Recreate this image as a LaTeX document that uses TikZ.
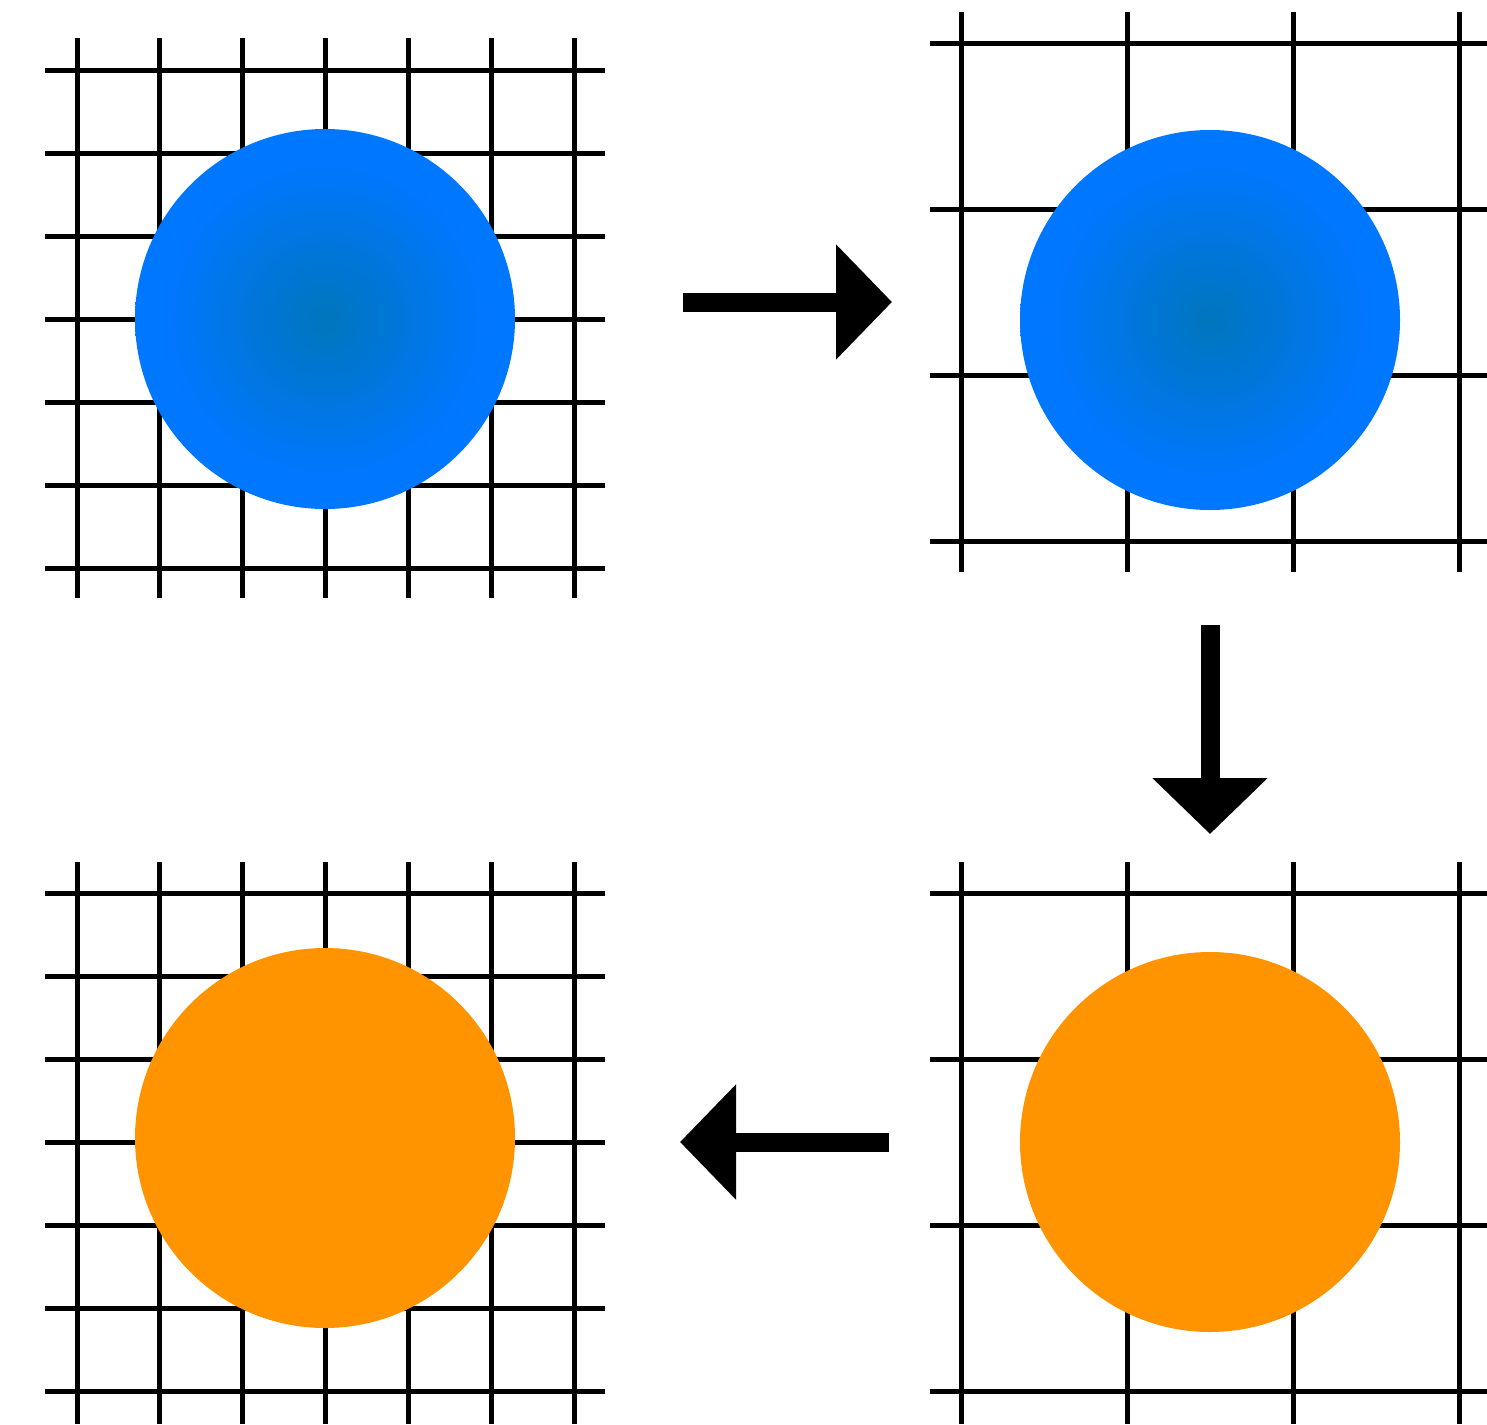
\documentclass[tikz,border=0pt]{standalone}
\usetikzlibrary{arrows.meta}
\definecolor{ballin}{RGB}{0,118,189}
\definecolor{ballout}{RGB}{0,119,255}
\definecolor{orangeball}{RGB}{255,148,0}
\pgfdeclareradialshading{ballshade}{\pgfpoint{0bp}{0bp}}{color(0bp)=(ballin); color(21bp)=(ballout); color(25bp)=(ballout); color(50bp)=(ballout)}
\tikzset{
  gridline/.style={line width=5pt, black},
  ballnode/.style={circle, minimum size=380pt, inner sep=0pt, draw=none},
  blueball/.style={ballnode, shading=ballshade},
  orangeballnode/.style={ballnode, fill=orangeball},
  bigarrow/.style={line width=19pt, black, -{Triangle[length=56pt, width=112pt]}}
}
\begin{document}
\begin{tikzpicture}[x=1pt, y=-1pt]
\useasboundingbox (0,0) rectangle (1487,1424);
% top-left fine grid
\foreach \i in {0,...,6} {
  \draw[gridline] ({77+82.9*\i},38) -- ({77+82.9*\i},598);
  \draw[gridline] (45,{70+83*\i}) -- (605,{70+83*\i});
}
% top-right coarse grid
\foreach \i in {0,...,3} {
  \draw[gridline] ({961+166*\i},12) -- ({961+166*\i},572);
  \draw[gridline] (930,{43+166*\i}) -- (1490,{43+166*\i});
}
% bottom-left fine grid
\foreach \i in {0,...,6} {
  \draw[gridline] ({77+82.9*\i},862) -- ({77+82.9*\i},1424);
  \draw[gridline] (45,{893+83*\i}) -- (605,{893+83*\i});
}
% bottom-right coarse grid
\foreach \i in {0,...,3} {
  \draw[gridline] ({961+166*\i},862) -- ({961+166*\i},1424);
  \draw[gridline] (930,{893+166*\i}) -- (1490,{893+166*\i});
}
% balls
\node[blueball] (tl) at (325,319) {};
\node[blueball] (tr) at (1210,320) {};
\node[orangeballnode] (br) at (1210,1142) {};
\node[orangeballnode] (bl) at (325,1138) {};
% arrows
\coordinate (a1s) at (683,302);
\coordinate (a1e) at (892,302);
\coordinate (a2s) at (1210,625);
\coordinate (a2e) at (1210,834);
\coordinate (a3s) at (889,1142);
\coordinate (a3e) at (680,1142);
\draw[bigarrow] (a1s) -- (a1e);
\draw[bigarrow] (a2s) -- (a2e);
\draw[bigarrow] (a3s) -- (a3e);
\end{tikzpicture}
\end{document}
